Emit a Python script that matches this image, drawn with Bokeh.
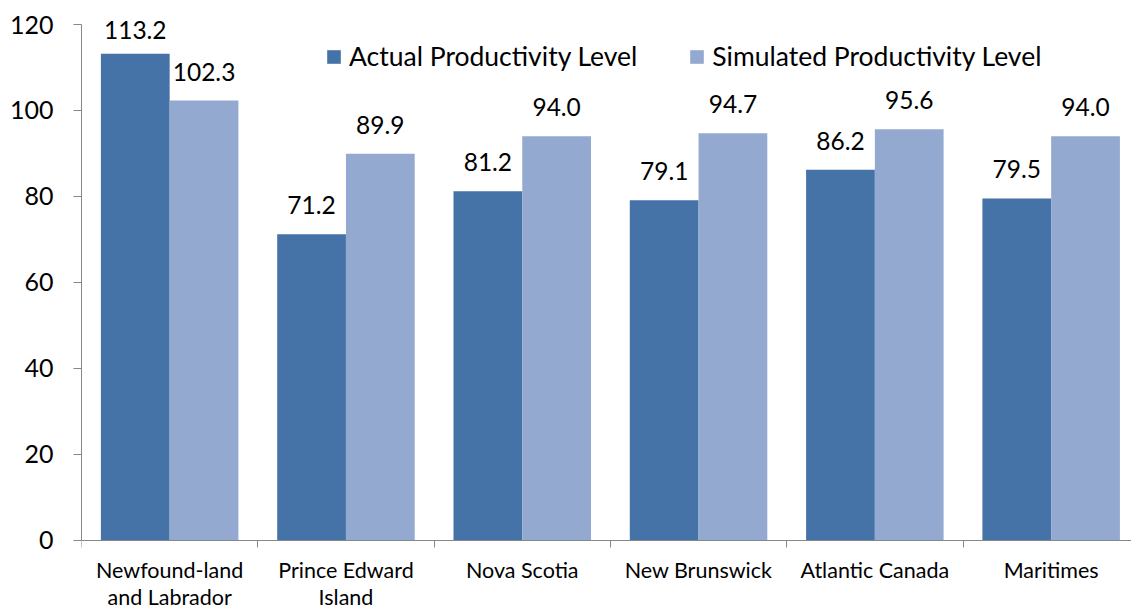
import numpy as np
from bokeh.plotting import figure
from bokeh.models import (ColumnDataSource, Range1d, FixedTicker, Legend, LegendItem)
from bokeh.embed import file_html
from bokeh.resources import INLINE

# Labour productivity levels by province / region
categories = ["Newfound-land\nand Labrador", "Prince Edward\nIsland", "Nova Scotia",
              "New Brunswick", "Atlantic Canada", "Maritimes"]
actual = [113.2, 71.2, 81.2, 79.1, 86.2, 79.5]
simulated = [102.3, 89.9, 94.0, 94.7, 95.6, 94.0]
y_ticks = [0, 20, 40, 60, 80, 100, 120]

FONT = "Lato"
DARK = "#4572A7"
LIGHT = "#94A9D0"
AXIS = "#878787"

W, H = 1131, 609
TOP, LEFT = 24, 81          # px from the canvas top to 120, and to the value axis
AXIS_Y = 539.5              # where the value 0 sits, px from the top
SLOT_PX = 176.3             # width of one category slot in px

n = len(categories)
centers = np.arange(n) + 0.5
bar_w = 0.39
y_max = 120
px_per_unit = (AXIS_Y - TOP) / y_max
y_min = -(H - AXIS_Y) / px_per_unit   # room under the baseline for the category names
y_top = y_max + TOP / px_per_unit     # room above 120 for the tallest value label

def label_y(vals):
    # value labels float above each bar, kept inside the plot area
    v = np.asarray(vals, dtype=float)
    return np.minimum(v + 29 / px_per_unit, y_max - 5 / px_per_unit)

src = ColumnDataSource(dict(
    x_a=centers - bar_w / 2, x_s=centers + bar_w / 2,
    actual=actual, simulated=simulated,
    ly_a=label_y(actual), ly_s=label_y(simulated),
    t_a=[f"{v:.1f}" for v in actual], t_s=[f"{v:.1f}" for v in simulated],
))

p = figure(width=W, height=H, output_backend="svg", toolbar_location=None,
           x_range=Range1d(0, (W - LEFT) / SLOT_PX), y_range=Range1d(y_min, y_top),
           min_border_left=LEFT, min_border_right=0, min_border_top=0,
           min_border_bottom=0)
p.outline_line_color = None
p.grid.visible = False
p.background_fill_color = "white"

r_a = p.vbar(x="x_a", top="actual", width=bar_w, source=src, fill_color=DARK, line_color=None)
r_s = p.vbar(x="x_s", top="simulated", width=bar_w, source=src, fill_color=LIGHT, line_color=None)

for xcol, ycol, tcol in (("x_a", "ly_a", "t_a"), ("x_s", "ly_s", "t_s")):
    p.text(x=xcol, y=ycol, text=tcol, source=src, text_align="center",
           text_baseline="alphabetic", text_font_size="24.5px", text_color="black",
           text_font={"value": FONT})

# y axis, drawn only over 0..120
ya = p.yaxis[0]
ya.ticker = FixedTicker(ticks=y_ticks, minor_ticks=[])
ya.bounds = (0, y_max)
ya.axis_line_color = AXIS
ya.major_tick_line_color = AXIS
ya.major_tick_out = 8
ya.major_tick_in = 0
ya.minor_tick_line_color = None
ya.major_label_standoff = 20
ya.major_label_text_font = FONT
ya.major_label_text_font_size = "25px"
ya.major_label_text_color = "black"

# x axis pinned at 0: names centred in each slot, tick marks on slot boundaries
xa = p.xaxis[0]
xa.fixed_location = 0
xa.ticker = FixedTicker(ticks=list(centers), minor_ticks=list(range(n + 1)))
xa.major_label_overrides = {float(c): name for c, name in zip(centers, categories)}
xa.axis_line_color = AXIS
xa.major_tick_line_color = None
xa.major_tick_out = 0
xa.major_tick_in = 0
xa.minor_tick_line_color = AXIS
xa.minor_tick_out = 7
xa.minor_tick_in = 0
xa.major_label_standoff = 10
xa.major_label_text_font = FONT
xa.major_label_text_font_size = "21.5px"
xa.major_label_text_line_height = 1.05
xa.major_label_text_color = "black"

legend = Legend(items=[LegendItem(label="Actual Productivity Level", renderers=[r_a]),
                       LegendItem(label="Simulated Productivity Level", renderers=[r_s])],
                orientation="horizontal", location=(244, 537),
                glyph_width=17, glyph_height=17, label_standoff=7, spacing=51,
                padding=0, margin=0, border_line_color=None, background_fill_alpha=0,
                label_text_font=FONT, label_text_font_size="26.5px", label_text_color="black")
p.add_layout(legend, "center")

open("out.html", "w").write(file_html(p, INLINE))
